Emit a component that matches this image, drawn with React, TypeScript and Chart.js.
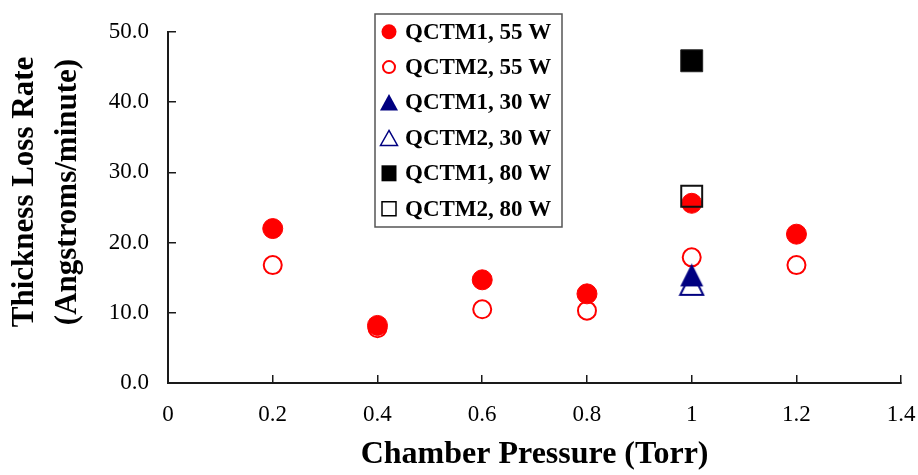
import React, { useEffect, useRef } from 'react';
import { Chart, registerables } from 'chart.js';

Chart.register(...registerables);

// ---- Data ----
const pressures55W = [0.2, 0.4, 0.6, 0.8, 1.0, 1.2];
const qctm1_55W = [22.0, 8.2, 14.7, 12.7, 25.6, 21.2];
const qctm2_55W = [16.8, 7.8, 10.5, 10.3, 17.9, 16.8];
const pressures30W = [1.0];
const qctm1_30W = [15.4];
const qctm2_30W = [14.2];
const pressures80W = [1.0];
const qctm1_80W = [45.9];
const qctm2_80W = [26.6];

const seriesNames = [
  'QCTM1, 55 W',
  'QCTM2, 55 W',
  'QCTM1, 30 W',
  'QCTM2, 30 W',
  'QCTM1, 80 W',
  'QCTM2, 80 W',
];

const xTickLabels = ['0', '0.2', '0.4', '0.6', '0.8', '1', '1.2', '1.4'];
const yTickLabels = ['0.0', '10.0', '20.0', '30.0', '40.0', '50.0'];
const xTitle = 'Chamber Pressure (Torr)';
const yTitle = ['Thickness Loss Rate', '(Angstroms/minute)'];

const FONT = "'Liberation Serif', 'Times New Roman', serif";
const RED = '#FF0000';
const NAVY = '#000080';
const BLACK = '#000000';

function makeTriangle(filled: boolean, size: number): HTMLCanvasElement {
  const c = document.createElement('canvas');
  c.width = size + 4;
  c.height = size + 4;
  const ctx = c.getContext('2d')!;
  const p = 2;
  ctx.beginPath();
  ctx.moveTo(p + size / 2, p);
  ctx.lineTo(p + size, p + size);
  ctx.lineTo(p, p + size);
  ctx.closePath();
  if (filled) {
    ctx.fillStyle = NAVY;
    ctx.fill();
  } else {
    ctx.strokeStyle = NAVY;
    ctx.lineWidth = 2;
    ctx.stroke();
  }
  return c;
}

const toPoints = (xs: number[], ys: number[]) => xs.map((x, i) => ({ x, y: ys[i] }));

type LegendShape = 'circleFilled' | 'circleOpen' | 'triFilled' | 'triOpen' | 'sqFilled' | 'sqOpen';
const legendShapes: LegendShape[] = ['circleFilled', 'circleOpen', 'triFilled', 'triOpen', 'sqFilled', 'sqOpen'];

const legendPlugin = {
  id: 'boxLegend',
  afterDatasetsDraw(chart: any) {
    const ctx = chart.ctx as CanvasRenderingContext2D;
    const left = 375;
    const top = 14;
    const width = 187;
    const height = 213;
    const firstY = 31.7;
    const step = 35.4;
    const markerX = 389;
    const textX = 405;
    ctx.save();
    ctx.fillStyle = '#FFFFFF';
    ctx.fillRect(left, top, width, height);
    ctx.strokeStyle = '#555555';
    ctx.lineWidth = 1.5;
    ctx.strokeRect(left, top, width, height);
    legendShapes.forEach((shape, i) => {
      const y = firstY + i * step;
      ctx.beginPath();
      switch (shape) {
        case 'circleFilled':
          ctx.arc(markerX, y, 7.5, 0, Math.PI * 2);
          ctx.fillStyle = RED;
          ctx.fill();
          break;
        case 'circleOpen':
          ctx.arc(markerX, y, 6, 0, Math.PI * 2);
          ctx.strokeStyle = RED;
          ctx.lineWidth = 2;
          ctx.stroke();
          break;
        case 'triFilled':
          ctx.moveTo(markerX, y - 8.5);
          ctx.lineTo(markerX + 9, y + 8);
          ctx.lineTo(markerX - 9, y + 8);
          ctx.closePath();
          ctx.fillStyle = NAVY;
          ctx.fill();
          break;
        case 'triOpen':
          ctx.moveTo(markerX, y - 7.5);
          ctx.lineTo(markerX + 8.5, y + 7.5);
          ctx.lineTo(markerX - 8.5, y + 7.5);
          ctx.closePath();
          ctx.strokeStyle = NAVY;
          ctx.lineWidth = 1.5;
          ctx.stroke();
          break;
        case 'sqFilled':
          ctx.rect(markerX - 7.5, y - 8, 15, 16);
          ctx.fillStyle = BLACK;
          ctx.fill();
          break;
        case 'sqOpen':
          ctx.rect(markerX - 7, y - 7, 14, 14);
          ctx.strokeStyle = BLACK;
          ctx.lineWidth = 1.5;
          ctx.stroke();
          break;
      }
      ctx.fillStyle = BLACK;
      ctx.font = `bold 23px ${FONT}`;
      ctx.textAlign = 'left';
      ctx.textBaseline = 'middle';
      ctx.fillText(seriesNames[i], textX, y + 1);
    });
    ctx.restore();
  },
};

// Draws the two-line y-axis title at the position used in the reference
const yTitlePlugin = {
  id: 'yTitle',
  afterDraw(chart: any) {
    const ctx = chart.ctx as CanvasRenderingContext2D;
    const lines: string[] = yTitle;
    const centerY = 192;
    const xs = [25, 68];
    ctx.save();
    ctx.fillStyle = BLACK;
    ctx.font = `bold 31px ${FONT}`;
    ctx.textAlign = 'center';
    ctx.textBaseline = 'middle';
    lines.forEach((line, i) => {
      ctx.save();
      ctx.translate(xs[i], centerY);
      ctx.rotate(-Math.PI / 2);
      ctx.fillText(line, 0, 0);
      ctx.restore();
    });
    ctx.restore();
  },
};

export default function App() {
  const canvasRef = useRef<HTMLCanvasElement | null>(null);

  useEffect(() => {
    if (!canvasRef.current) return;
    const triFilled = makeTriangle(true, 23);
    const triOpen = makeTriangle(false, 23);

    const datasets: any[] = [
      {
        label: seriesNames[0],
        data: toPoints(pressures55W, qctm1_55W),
        pointStyle: 'circle',
        pointRadius: 10,
        borderWidth: 1,
        backgroundColor: RED,
        borderColor: RED,
      },
      {
        label: seriesNames[1],
        data: toPoints(pressures55W, qctm2_55W),
        pointStyle: 'circle',
        pointRadius: 9,
        borderWidth: 2,
        backgroundColor: 'rgba(0,0,0,0)',
        borderColor: RED,
      },
      {
        label: seriesNames[2],
        data: toPoints(pressures30W, qctm1_30W),
        pointStyle: triFilled,
        pointRadius: 12,
        borderWidth: 0,
        backgroundColor: NAVY,
        borderColor: NAVY,
      },
      {
        label: seriesNames[3],
        data: toPoints(pressures30W, qctm2_30W),
        pointStyle: triOpen,
        pointRadius: 12,
        borderWidth: 0,
        backgroundColor: 'rgba(0,0,0,0)',
        borderColor: NAVY,
      },
      {
        label: seriesNames[4],
        data: toPoints(pressures80W, qctm1_80W),
        pointStyle: 'rect',
        pointRadius: 15.5,
        borderWidth: 1,
        backgroundColor: BLACK,
        borderColor: '#222222',
      },
      {
        label: seriesNames[5],
        data: toPoints(pressures80W, qctm2_80W),
        pointStyle: 'rect',
        pointRadius: 14.8,
        borderWidth: 2,
        backgroundColor: 'rgba(0,0,0,0)',
        borderColor: '#111111',
      },
    ].map((d, i, arr) => ({ ...d, order: arr.length - 1 - i, showLine: false }));

    const chart = new Chart(canvasRef.current, {
      type: 'scatter',
      data: { datasets },
      plugins: [legendPlugin, yTitlePlugin],
      options: {
        responsive: false,
        animation: false,
        events: [],
        layout: { padding: { top: 32, right: 16, left: 0, bottom: 0 } },
        plugins: {
          legend: { display: false },
          tooltip: { enabled: false },
          title: { display: false },
        },
        scales: {
          x: {
            type: 'linear',
            min: 0,
            max: 1.4,
            afterFit: (scale: any) => {
              scale.height = 92;
              scale.paddingLeft = 0;
              scale.paddingRight = 0;
            },
            border: { display: true, color: '#1a1a1a', width: 2 },
            grid: {
              drawOnChartArea: false,
              drawTicks: true,
              tickLength: -8,
              color: '#1a1a1a',
              lineWidth: 1.5,
            },
            ticks: {
              stepSize: 0.2,
              padding: 26,
              color: BLACK,
              font: { family: FONT, size: 23 },
              callback: (value: any) => xTickLabels[Math.round(Number(value) / 0.2)] ?? '',
              maxRotation: 0,
              autoSkip: false,
            },
            title: {
              display: true,
              text: xTitle,
              color: BLACK,
              font: { family: FONT, size: 32, weight: 'bold', lineHeight: 1.2 },
              padding: { top: 0, bottom: 1 },
            },
          },
          y: {
            type: 'linear',
            min: 0,
            max: 50,
            afterFit: (scale: any) => {
              scale.width = 168;
              scale.paddingTop = 0;
              scale.paddingBottom = 0;
            },
            border: { display: true, color: '#1a1a1a', width: 2 },
            grid: {
              drawOnChartArea: false,
              drawTicks: true,
              tickLength: -8,
              color: '#1a1a1a',
              lineWidth: 1.5,
            },
            ticks: {
              stepSize: 10,
              padding: 27,
              color: BLACK,
              font: { family: FONT, size: 23 },
              callback: (value: any) => yTickLabels[Math.round(Number(value) / 10)] ?? '',
            },
            title: {
              display: false,
              text: yTitle,
            },
          },
        },
      } as any,
    });

    return () => {
      chart.destroy();
    };
  }, []);

  return (
    <div style={{ position: 'fixed', left: 0, top: 0, width: 918, height: 475, background: '#fff' }}>
      <canvas ref={canvasRef} width={918} height={475} style={{ width: 918, height: 475 }} />
    </div>
  );
}
